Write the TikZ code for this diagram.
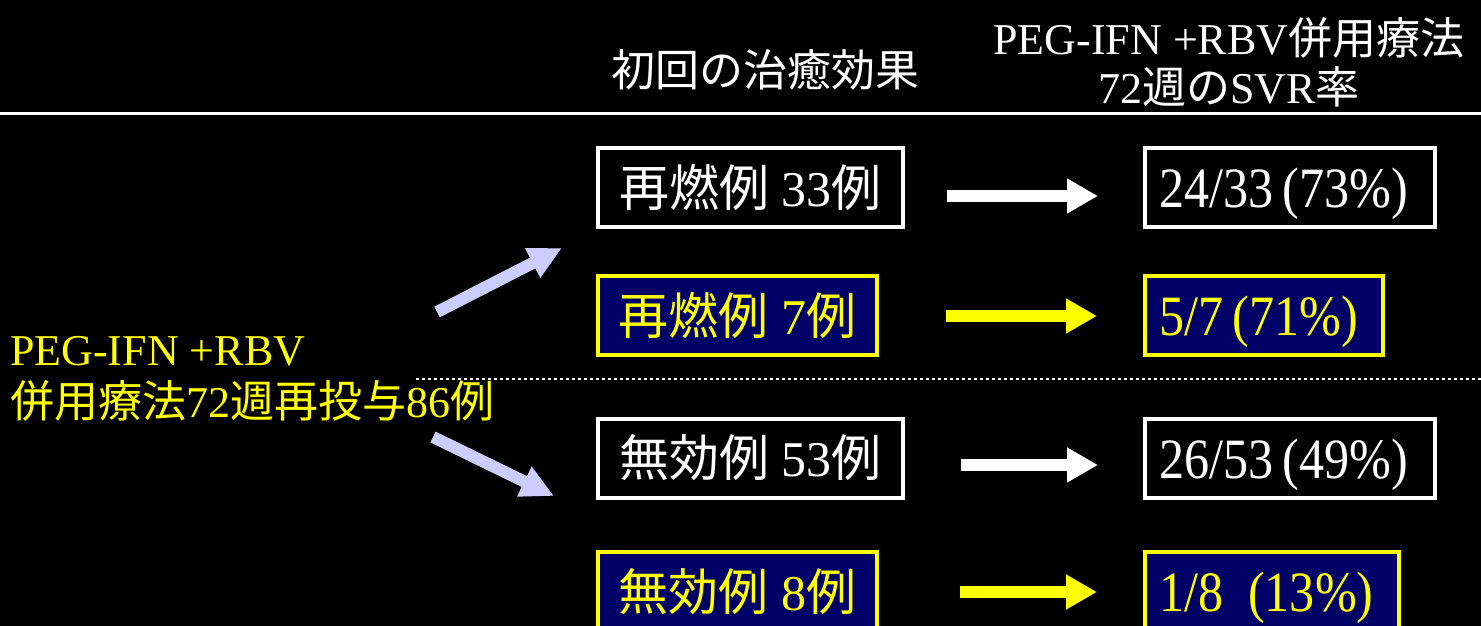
\documentclass[tikz,border=0pt]{standalone}
\usepackage{fontspec}
\setmainfont{Liberation Serif}
\newfontfamily\jp{Noto Sans CJK JP}
\newfontfamily\nar{Liberation Serif}[FakeStretch=0.88]
\usetikzlibrary{arrows.meta}
\definecolor{navy}{HTML}{000066}
\definecolor{lav}{HTML}{CCCCFF}
\definecolor{yel}{HTML}{FFFF00}
\begin{document}
\begin{tikzpicture}[x=1pt,y=-1pt,
  boxbase/.style={line width=4pt, inner sep=0pt, minimum height=79pt, font=\fontsize{50}{55}\selectfont},
  wbox/.style={boxbase, draw=white, fill=black, text=white},
  ybox/.style={boxbase, draw=yel, fill=navy, text=yel},
  rtext/.style={inner xsep=14pt, text height=40pt, text depth=0pt, font=\nar\fontsize{57}{60}\selectfont},
  blockarrow/.style={line width=12pt, -{Triangle[length=31pt,width=33pt]}},
  lavarrow/.style={line width=12pt, draw=lav, -{Triangle[length=33pt,width=31pt]}},
  hdr/.style={text=white, inner sep=0pt, font=\fontsize{44}{47}\selectfont},
  lab/.style={text=yel, inner sep=0pt, anchor=base west, font=\fontsize{44}{47}\selectfont}
 ]
\useasboundingbox (0,0) rectangle (1481,626);
\fill[black] (0,0) rectangle (1481,626);
\clip (0,0) rectangle (1481,626);

% header
\node[hdr, anchor=base] (h0) at (765,86) {\jp 初回の治癒効果};
\node[hdr, anchor=base] (h1) at (1229,55) {PEG-IFN +RBV{\jp 併用療法}};
\node[hdr, anchor=base] (h2) at (1229,103) {72{\jp 週の}SVR{\jp 率}};
\coordinate (hl1) at (0,113.5);
\coordinate (hl2) at (1481,113.5);
\draw[white, line width=3pt] (hl1) -- (hl2);

% dotted separator
\coordinate (dl1) at (416,379);
\coordinate (dl2) at (1481,379);
\draw[white, line width=2.5pt, dash pattern=on 3pt off 3pt] (dl1) -- (dl2);

% left label
\node[lab] (l1) at (10,365) {PEG-IFN +RBV};
\node[lab] (l2) at (10,417) {{\jp 併用療法}72{\jp 週再投与}86{\jp 例}};

% left boxes
\node[wbox, minimum width=305pt] (b1) at (750.5,187.5) {{\jp 再燃例} 33{\jp 例}};
\node[ybox, minimum width=279pt] (b2) at (737.5,315.5) {{\jp 再燃例} 7{\jp 例}};
\node[wbox, minimum width=305pt] (b3) at (750.5,458) {{\jp 無効例} 53{\jp 例}};
\node[ybox, minimum width=279pt] (b4) at (737.5,591.5) {{\jp 無効例} 8{\jp 例}};

% right boxes
\node[wbox, rtext] (r1) at (1290,187.5) {\makebox[262pt][l]{24/33\,(73\%)}};
\node[ybox, rtext] (r2) at (1264,315) {\makebox[210pt][l]{5/7\,(71\%)}};
\node[wbox, rtext] (r3) at (1290,458) {\makebox[262pt][l]{26/53\,(49\%)}};
\node[ybox, rtext] (r4) at (1272,591.5) {\makebox[226pt][l]{1/8 \ (13\%)}};

% horizontal arrows
\coordinate (a1s) at (947,196);  \coordinate (a1e) at (1098,196);
\coordinate (a2s) at (946,316);  \coordinate (a2e) at (1097,316);
\coordinate (a3s) at (961,465);  \coordinate (a3e) at (1098,465);
\coordinate (a4s) at (960,592);  \coordinate (a4e) at (1097,592);
\draw[blockarrow, white] (a1s) -- (a1e);
\draw[blockarrow, yel] (a2s) -- (a2e);
\draw[blockarrow, white] (a3s) -- (a3e);
\draw[blockarrow, yel] (a4s) -- (a4e);

% lavender arrows
\coordinate (u1) at (437,312); \coordinate (u2) at (562,248);
\coordinate (d1) at (433,437); \coordinate (d2) at (554,496);
\draw[lavarrow] (u1) -- (u2);
\draw[lavarrow] (d1) -- (d2);
\end{tikzpicture}
\end{document}
